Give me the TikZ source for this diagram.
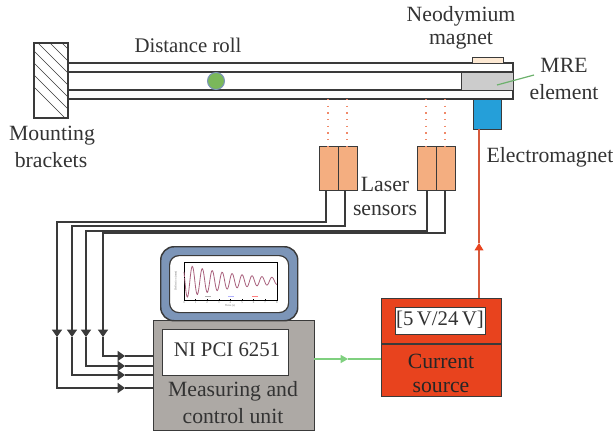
\documentclass[tikz,border=0pt]{standalone}
\usepackage{fontspec}
\setmainfont{Liberation Serif}
\usetikzlibrary{arrows.meta}
\definecolor{ink}{HTML}{333333}
\definecolor{edge}{HTML}{3A3A3A}
\definecolor{unitgray}{HTML}{ADA9A5}
\definecolor{mregray}{HTML}{CCCCCC}
\definecolor{sensorc}{HTML}{F4AE80}
\definecolor{emblue}{HTML}{259FD9}
\definecolor{magc}{HTML}{FDE9D3}
\definecolor{redc}{HTML}{E8431E}
\definecolor{wirered}{HTML}{D65A3C}
\definecolor{greenc}{HTML}{7FD07F}
\definecolor{monblue}{HTML}{7C95B8}
\definecolor{rollg}{HTML}{7AB85A}
\definecolor{curvec}{HTML}{A8607C}
\definecolor{dotc}{HTML}{F08A6A}
\tikzset{
  x=0.75pt,y=-0.75pt,
  lbl/.style={text=ink,font=\fontsize{16.3}{18}\selectfont,inner sep=0pt},
  lbs/.style={text=ink,font=\fontsize{15.6}{18}\selectfont,inner sep=0pt},
  blk/.style={draw=edge,line width=1.1pt,inner sep=0pt},
  beam/.style={draw=edge,line width=1pt},
  wire/.style={draw=edge,line width=1pt},
  tipd/.style={-{Triangle[length=5.5pt,width=7.5pt]}},
  dots/.style={draw=dotc,line width=0.8pt,dash pattern=on 1pt off 4pt},
  tiny/.style={text=ink!70,font=\fontsize{2.2}{2.5}\selectfont,inner sep=0pt},
}
\begin{document}
\begin{tikzpicture}
\useasboundingbox (0,0) rectangle (613,432);
\newcommand{\boxn}[6]{\node[#1,minimum width=(#5-#3)*0.75pt,minimum height=(#6-#4)*0.75pt,anchor=north west] (#2) at (#3,#4) {};}
% beam
\draw[beam] (68,63) -- (513,63) -- (513,99) -- (68,99);
\draw[beam] (68,72) -- (513,72);
\draw[beam] (68,90) -- (513,90);
\boxn{blk,fill=white}{bracket}{34}{43}{68}{118}
\begin{scope}
\clip (34,43) rectangle (68,118);
\foreach \k in {-44,-32,...,70}{\draw[edge,line width=0.5pt] ({34+\k},43) -- ({34+\k+75},118);}
\end{scope}
\draw[blk] (34,43) rectangle (68,118);
\boxn{blk,fill=mregray}{mre}{461}{72}{513}{90}
\boxn{blk,fill=magc}{magnet}{472}{57}{503}{63}
\boxn{blk,fill=emblue}{emag}{473}{99}{501}{129}
\node[circle,draw=monblue,line width=0.8pt,fill=rollg,minimum size=17*0.75pt,inner sep=0pt] (roll) at (216,81) {};
% sensors
\boxn{blk,fill=sensorc}{s1a}{319}{146}{338}{190}
\boxn{blk,fill=sensorc}{s1b}{338}{146}{357}{190}
\boxn{blk,fill=sensorc}{s2a}{417}{146}{436}{190}
\boxn{blk,fill=sensorc}{s2b}{436}{146}{455}{190}
\coordinate (d1t) at (328,99); \coordinate (d1b) at (328,146);
\coordinate (d2t) at (347,99); \coordinate (d2b) at (347,146);
\coordinate (d3t) at (426,99); \coordinate (d3b) at (426,146);
\coordinate (d4t) at (445,99); \coordinate (d4b) at (445,146);
\draw[dots] (d1t)--(d1b); \draw[dots] (d2t)--(d2b); \draw[dots] (d3t)--(d3b); \draw[dots] (d4t)--(d4b);
% unit, monitor
\boxn{blk,fill=unitgray}{unit}{153}{320}{314}{430}
\boxn{blk,fill=white}{ni}{162}{329}{288}{375}
\node[blk,fill=monblue,rounded corners=10pt,minimum width=137*0.75pt,minimum height=74*0.75pt,anchor=north west] (mon) at (160,246) {};
\node[draw=edge,line width=0.9pt,fill=white,rounded corners=7pt,minimum width=119*0.75pt,minimum height=57*0.75pt,anchor=north west,inner sep=0pt] (scr) at (169,255) {};
% plot
\draw[black,line width=0.7pt] (184,262) rectangle (277,300);
\draw[curvec,line width=0.6pt,smooth,samples=160,domain=0:93] plot ({184+\x},{281-17*exp(-\x/58)*cos(36.18*(\x+1.6))});
\foreach \t in {0,1,...,8}{\draw[black,line width=0.2pt] ({184+\t*11.6},300)--({184+\t*11.6},298.6);\node[tiny] at ({184+\t*11.6},302.5) {\t};}
\foreach \t in {262,269.6,...,300}{\draw[black,line width=0.2pt] (184,\t)--(185.4,\t);}
\node[tiny,rotate=90] at (176,281) {Deflection (mm)};
\node[tiny] at (230,306) {Time (s)};
\draw[gray!60,line width=0.3pt] (205,296)--(211,296);
\draw[blue!30,line width=0.3pt] (228,296)--(234,296);
\draw[red!50,line width=0.3pt] (252,296)--(258,296);
% source
\boxn{blk,fill=redc}{src}{381}{298}{501}{396}
\draw[blk] (381,344)--(501,344);
\boxn{blk,fill=white}{range}{395}{307}{485}{334}
% wires
\coordinate (w1s) at (326,190); \coordinate (w1a) at (326,222); \coordinate (w1b) at (57,222); \coordinate (w1c) at (57,337); \coordinate (w1d) at (57,388); \coordinate (w1e) at (125,388); \coordinate (w1f) at (153,388);
\coordinate (w2s) at (345,190); \coordinate (w2a) at (345,226); \coordinate (w2b) at (72,226); \coordinate (w2c) at (72,337); \coordinate (w2d) at (72,375); \coordinate (w2e) at (125,375); \coordinate (w2f) at (153,375);
\coordinate (w3s) at (427,190); \coordinate (w3a) at (427,231); \coordinate (w3b) at (86,231); \coordinate (w3c) at (86,337); \coordinate (w3d) at (86,366); \coordinate (w3e) at (125,366); \coordinate (w3f) at (153,366);
\coordinate (w4s) at (445,190); \coordinate (w4a) at (445,233); \coordinate (w4b) at (103,233); \coordinate (w4c) at (103,337); \coordinate (w4d) at (103,356); \coordinate (w4e) at (125,356); \coordinate (w4f) at (153,356);
\foreach \w in {w1,w2,w3,w4}{
  \draw[wire,tipd] (\w s)--(\w a)--(\w b)--(\w c);
  \draw[wire,tipd] (\w c)--(\w d)--(\w e);
  \draw[wire] (\w e)--(\w f);
}
% red and green links
\coordinate (rb) at (479,298); \coordinate (rm) at (479,243); \coordinate (rt) at (479,129);
\draw[wirered,line width=1pt] (rm)--(rt);
\draw[wirered,line width=1pt,-{Triangle[length=5.5pt,width=6.5pt,fill=redc,color=redc]}] (rb)--(rm);
\coordinate (gs) at (314,359); \coordinate (gm) at (348,359); \coordinate (ge) at (381,359);
\draw[greenc,line width=1pt,-{Triangle[length=5.5pt,width=6pt]}] (gs)--(gm);
\draw[greenc,line width=1pt] (gm)--(ge);
\coordinate (ml1) at (497,85); \coordinate (ml2) at (534,75);
\draw[greenc!85!black,line width=0.9pt] (ml1)--(ml2);
% labels
\node[lbs] (t1) at (188,45) {Distance roll};
\node[lbl] (t2) at (52,136) {Mounting};
\node[lbl] (t3) at (51,160) {brackets};
\node[lbl] (t4) at (461,16) {Neodymium};
\node[lbl] (t5) at (461,41) {magnet};
\node[lbl] (t6) at (564,65) {MRE};
\node[lbl] (t7) at (564,92) {element};
\node[lbl] (t8) at (550,157) {Electromagnet};
\node[lbl] (t9) at (385,184) {Laser};
\node[lbl] (t10) at (385,210) {sensors};
\node[lbs] (t11) at (227,350) {NI PCI 6251};
\node[lbl] (t12) at (233,391) {Measuring and};
\node[lbl] (t13) at (233,416) {control unit};
\node[lbs] (t14) at (440,320) {[5\,V/24\,V]};
\node[lbl,text=black!85] (t15) at (441,361) {Current};
\node[lbl,text=black!85] (t16) at (441,387) {source};
\end{tikzpicture}
\end{document}
